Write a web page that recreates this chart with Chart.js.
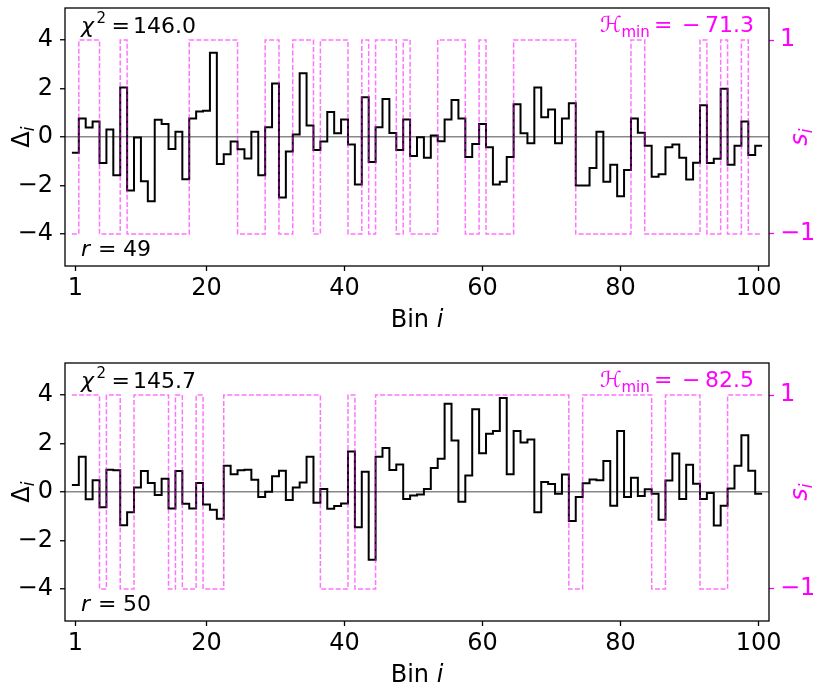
<!DOCTYPE html>
<html lang="en">
<head>
<meta charset="UTF-8" />
<title>Residuals and sign segmentation</title>
<script src="https://cdn.jsdelivr.net/npm/chart.js"></script>
<style>
  html, body { margin: 0; padding: 0; background: #fff; width: 813px; height: 684px; overflow: hidden; }
  canvas { position: absolute; left: 0; }
</style>
</head>
<body>
<canvas id="panelTop" width="813" height="342" style="top:0"></canvas>
<canvas id="panelBottom" width="813" height="342" style="top:355px"></canvas>
<script>
// --- data ---
const X_TICKS = [1, 20, 40, 60, 80, 100];
const Y_TICKS = [-4, -2, 0, 2, 4];
const S_TICKS = [-1, 1];

const DELTA_TOP = [
  -0.65, 0.76, 0.39, 0.64, -1.07, 0.31, -1.58, 2.04, -2.21, -0.02,
  -1.83, -2.65, 0.71, 0.54, -0.50, 0.22, -1.74, 0.76, 1.05, 1.08,
  3.47, -1.11, -0.71, -0.19, -0.51, -0.89, 0.22, -1.58, 0.40, 2.21,
  -2.49, -0.60, 0.10, 2.63, 0.47, -0.54, -0.19, 1.03, 0.15, 0.72,
  -0.31, -1.96, 1.64, -1.03, 0.40, 1.57, 0.17, -0.54, 0.72, -0.78,
  -0.01, -0.86, 0.06, -0.18, 0.72, 1.53, 0.76, -0.82, -0.29, 0.54,
  -0.42, -1.96, -1.85, -0.82, 1.35, 0.15, -0.26, 2.04, 0.81, 1.13,
  -0.26, 0.76, 1.39, -2.00, -2.00, -1.28, 0.22, -1.85, -1.14, -2.44,
  -1.36, 0.76, 0.18, -0.36, -1.64, -1.54, -0.42, -0.31, -0.86, -1.75,
  -1.06, 1.31, -1.07, -0.90, 1.99, -1.14, -0.36, 0.64, -0.74, -0.36
];
const SIGN_TOP = [
  -1, 1, 1, 1, -1, -1, -1, 1, -1, -1,
  -1, -1, -1, -1, -1, -1, -1, 1, 1, 1,
  1, 1, 1, 1, -1, -1, -1, -1, 1, 1,
  -1, -1, 1, 1, 1, -1, 1, 1, 1, 1,
  -1, -1, 1, -1, 1, 1, 1, -1, 1, -1,
  -1, -1, -1, 1, 1, 1, 1, -1, -1, 1,
  -1, -1, -1, -1, 1, 1, 1, 1, 1, 1,
  1, 1, 1, -1, -1, -1, -1, -1, -1, -1,
  -1, 1, 1, -1, -1, -1, -1, -1, -1, -1,
  -1, 1, -1, -1, 1, -1, -1, 1, -1, -1
];
const DELTA_BOTTOM = [
  0.29, 1.45, -0.30, 0.48, -0.63, 0.92, 0.90, -1.37, -0.83, 0.19,
  0.87, 0.37, -0.12, 0.55, -0.68, 0.87, -0.48, -0.68, 0.37, -0.52,
  -0.73, -1.10, 1.08, 0.73, 0.90, 0.92, 0.51, -0.21, 0.01, 0.65,
  0.88, -0.33, 0.19, 0.39, 1.45, -0.44, 0.12, -0.69, -0.58, -0.47,
  1.67, -1.45, 0.83, -2.79, 1.45, 1.81, 0.91, 1.13, -0.29, -0.14,
  -0.10, 0.12, 0.99, 1.37, 3.64, 2.12, -0.40, 0.68, 3.41, 1.60,
  2.40, 2.52, 3.88, 0.73, 2.52, 2.04, 2.17, -0.84, 0.41, 0.33,
  -0.07, 0.72, -1.20, -0.21, 0.36, 0.52, 0.48, 1.28, -0.57, 2.52,
  -0.21, 0.59, -0.17, 0.11, -0.07, -1.14, 0.47, 1.59, -0.29, 1.12,
  0.34, -0.29, -0.04, -1.38, -0.57, 0.14, 1.08, 2.34, 0.88, -0.07
];
const SIGN_BOTTOM = [
  1, 1, 1, 1, -1, 1, 1, -1, -1, 1,
  1, 1, 1, 1, -1, 1, -1, -1, 1, -1,
  -1, -1, 1, 1, 1, 1, 1, 1, 1, 1,
  1, 1, 1, 1, 1, 1, -1, -1, -1, -1,
  1, -1, -1, -1, 1, 1, 1, 1, 1, 1,
  1, 1, 1, 1, 1, 1, 1, 1, 1, 1,
  1, 1, 1, 1, 1, 1, 1, 1, 1, 1,
  1, 1, -1, -1, 1, 1, 1, 1, 1, 1,
  1, 1, 1, 1, -1, -1, 1, 1, 1, 1,
  1, -1, -1, -1, -1, 1, 1, 1, 1, 1
];
const CHI2 = [146.0, 145.7];
const R_VALUES = [49, 50];
const H_MIN = [-71.3, -82.5];

// --- styling ---
const FONT = "'DejaVu Sans', 'Liberation Sans', sans-serif";
const MAGENTA = '#ff00ff';
const Y_LIM = 5.32;   // left axis half range
const S_LIM = Y_LIM / 4; // right axis: s = 1 sits at Delta = 4

const minus = (v) => String(v).replace('-', '\u2212');

// bin i covers [i - 0.5, i + 0.5]; stepped line goes through the bin edges
function binEdges(values) {
  const pts = values.map((v, i) => ({ x: i + 0.5, y: v }));
  pts.push({ x: values.length + 0.5, y: values[values.length - 1] });
  return pts;
}

function text(ctx, str, x, y, font, color) {
  ctx.font = font;
  ctx.fillStyle = color;
  ctx.fillText(str, x, y);
}

// no extra room for half tick labels: the plot box is fixed
function noPad(s) {
  s.paddingTop = 0;
  s.paddingBottom = 0;
  s.paddingLeft = 0;
  s.paddingRight = 0;
}

const frame = {
  id: 'frame',
  afterDatasetsDraw(chart) {
    const { ctx, chartArea: a } = chart;
    ctx.save();
    ctx.strokeStyle = '#000';
    ctx.lineWidth = 1.3;
    ctx.strokeRect(a.left, a.top, a.right - a.left, a.bottom - a.top);
    ctx.restore();
  }
};

const labels = {
  id: 'labels',
  afterDraw(chart, args, opts) {
    const { ctx, chartArea: a } = chart;
    ctx.save();
    ctx.textAlign = 'left';
    ctx.textBaseline = 'alphabetic';

    // chi^2 annotation
    text(ctx, 'χ', a.left + 16, a.top + 25, 'italic 22px ' + FONT, '#000');
    text(ctx, '2', a.left + 31.5, a.top + 15, '15px ' + FONT, '#000');
    text(ctx, '=', a.left + 46.5, a.top + 25, '22px ' + FONT, '#000');
    text(ctx, opts.chi2.toFixed(1), a.left + 68, a.top + 25, '22px ' + FONT, '#000');

    // r annotation
    text(ctx, 'r', a.left + 16, a.bottom - 10, 'italic 22px ' + FONT, '#000');
    text(ctx, '=', a.left + 33, a.bottom - 10, '22px ' + FONT, '#000');
    text(ctx, String(opts.r), a.left + 58, a.bottom - 10, '22px ' + FONT, '#000');

    // H_min annotation (minus set as a spaced operator, as in the source)
    text(ctx, 'ℋ', a.right - 169, a.top + 24, '22px ' + FONT, MAGENTA);
    text(ctx, 'min', a.right - 147.5, a.top + 29, '15px ' + FONT, MAGENTA);
    text(ctx, '=', a.right - 115, a.top + 24, '22px ' + FONT, MAGENTA);
    if (opts.hmin < 0) text(ctx, '\u2212', a.right - 87, a.top + 24, '22px ' + FONT, MAGENTA);
    ctx.textAlign = 'right';
    text(ctx, Math.abs(opts.hmin).toFixed(1), a.right - 15, a.top + 24, '22px ' + FONT, MAGENTA);
    ctx.textAlign = 'left';

    // x axis title: Bin i
    ctx.font = '24px ' + FONT;
    const wBin = ctx.measureText('Bin ').width;
    ctx.font = 'italic 24px ' + FONT;
    const wI = ctx.measureText('i').width;
    const cx = (a.left + a.right) / 2;
    text(ctx, 'Bin ', cx - (wBin + wI) / 2, 327, '24px ' + FONT, '#000');
    text(ctx, 'i', cx - (wBin + wI) / 2 + wBin, 327, 'italic 24px ' + FONT, '#000');

    const cy = (a.top + a.bottom) / 2;
    // left y title: Delta_i
    ctx.save();
    ctx.translate(29, cy);
    ctx.rotate(-Math.PI / 2);
    ctx.font = '24px ' + FONT;
    const wD = ctx.measureText('Δ').width;
    text(ctx, 'Δ', -(wD + 5) / 2, 0, '24px ' + FONT, '#000');
    text(ctx, 'i', -(wD + 5) / 2 + wD, 5, 'italic 17px ' + FONT, '#000');
    ctx.restore();

    // right y title: s_i
    ctx.save();
    ctx.translate(807, cy);
    ctx.rotate(-Math.PI / 2);
    ctx.font = 'italic 24px ' + FONT;
    const wS = ctx.measureText('s').width;
    text(ctx, 's', -(wS + 5) / 2, 0, 'italic 24px ' + FONT, MAGENTA);
    text(ctx, 'i', -(wS + 5) / 2 + wS, 5, 'italic 17px ' + FONT, MAGENTA);
    ctx.restore();

    ctx.restore();
  }
};

function makePanel(id, delta, sign, k) {
  new Chart(document.getElementById(id), {
    type: 'line',
    data: {
      datasets: [
        {
          data: binEdges(delta),
          yAxisID: 'y',
          stepped: 'before',
          borderColor: '#000',
          borderWidth: 2,
          pointRadius: 0,
          fill: false,
          order: 2
        },
        {
          data: binEdges(sign),
          yAxisID: 'y2',
          stepped: 'before',
          borderColor: 'rgba(255, 0, 255, 0.55)',
          borderWidth: 1.5,
          borderDash: [5, 2.2],
          pointRadius: 0,
          fill: false,
          order: 1
        }
      ]
    },
    options: {
      responsive: false,
      animation: false,
      layout: { padding: { top: 8, left: 0, right: 0, bottom: 0 } },
      plugins: {
        legend: { display: false },
        tooltip: { enabled: false },
        labels: { chi2: CHI2[k], r: R_VALUES[k], hmin: H_MIN[k] }
      },
      scales: {
        x: {
          type: 'linear',
          min: -0.5,
          max: 101.5,
          afterBuildTicks: (s) => { s.ticks = X_TICKS.map((v) => ({ value: v })); },
          afterFit: (s) => { s.height = 76; noPad(s); },
          ticks: { font: { family: FONT, size: 24 }, color: '#000', padding: 3, maxRotation: 0, autoSkip: false },
          grid: { drawOnChartArea: false, tickLength: 5, tickWidth: 1.3, tickColor: '#000' },
          border: { display: false }
        },
        y: {
          position: 'left',
          min: -Y_LIM,
          max: Y_LIM,
          afterBuildTicks: (s) => { s.ticks = Y_TICKS.map((v) => ({ value: v })); },
          afterFit: (s) => { s.width = 65; noPad(s); },
          ticks: { font: { family: FONT, size: 24 }, color: '#000', padding: 7, callback: minus },
          grid: {
            color: (c) => (c.tick && c.tick.value === 0 ? '#888888' : 'rgba(0,0,0,0)'),
            lineWidth: 1.5,
            tickLength: 5,
            tickWidth: 1.3,
            tickColor: '#000'
          },
          border: { display: false }
        },
        y2: {
          position: 'right',
          min: -S_LIM,
          max: S_LIM,
          afterBuildTicks: (s) => { s.ticks = S_TICKS.map((v) => ({ value: v })); },
          afterFit: (s) => { s.width = 44; noPad(s); },
          ticks: { font: { family: FONT, size: 24 }, color: MAGENTA, padding: 6, callback: minus },
          grid: { drawOnChartArea: false, tickLength: 5, tickWidth: 1.3, tickColor: MAGENTA },
          border: { display: false }
        }
      }
    },
    plugins: [frame, labels]
  });
}

makePanel('panelTop', DELTA_TOP, SIGN_TOP, 0);
makePanel('panelBottom', DELTA_BOTTOM, SIGN_BOTTOM, 1);
</script>
</body>
</html>
